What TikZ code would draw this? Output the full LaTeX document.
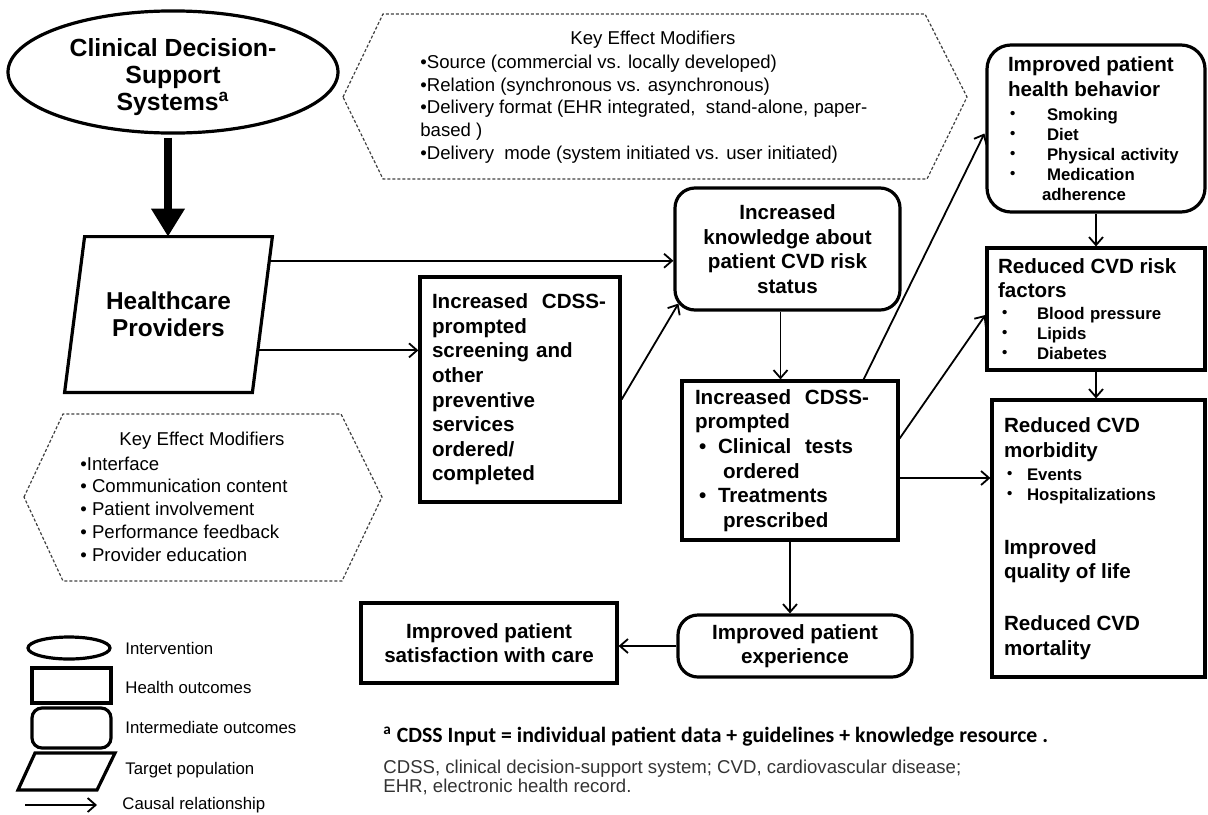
\documentclass[tikz,border=0pt]{standalone}
\usepackage{fontspec}
\setmainfont{Liberation Sans}
\newfontfamily\notefont{Carlito}
\usetikzlibrary{arrows.meta,shapes.geometric,calc}

\newcommand{\boxfont}{\fontsize{10.3}{12.3}\selectfont\bfseries}
\newcommand{\listfont}{\fontsize{8.4}{10}\selectfont\bfseries}
\newcommand{\bitem}[2]{\hspace*{#1}\makebox[#2][l]{•}}
\newcommand{\sitem}[2]{\hspace*{#1}\makebox[#2][l]{\raisebox{0.2ex}{\fontsize{7.5}{7.5}\selectfont•}}}

\tikzset{
  outbox/.style={draw, line width=1.6pt, inner sep=0pt, font=\boxfont},
  midbox/.style={outbox, rounded corners=10pt},
  causal/.style={line width=0.9pt, -{Straight Barb[length=4pt,width=7pt]}},
  bigarrow/.style={line width=4pt, -{Triangle[width=16pt,length=14pt]}},
  modline/.style={dash pattern=on 1.5pt off 1pt, line width=0.6pt, black!75},
  modtext/.style={font=\fontsize{9.3}{11.4}\selectfont, inner sep=0pt, align=left},
  legshape/.style={draw, line width=1.6pt, inner sep=0pt},
  legtext/.style={font=\fontsize{8.4}{10}\selectfont, anchor=west, inner sep=0pt},
}

\begin{document}
\begin{tikzpicture}[x=0.5pt, y=-0.5pt]
    \useasboundingbox (0,0) rectangle (1208,814);
    % --- intervention and target population ---
    \node[legshape, ellipse, minimum width=165pt, minimum height=56.5pt,
          font=\fontsize{12.4}{13.3}\selectfont\bfseries, align=center] (cdss) at (173,72)
          {\rule{0pt}{14pt}Clinical Decision-\\Support\\Systems\textsuperscript{a}};
    \node[minimum width=103.5pt, minimum height=77.5pt, inner sep=0pt,
          font=\fontsize{12.2}{13.6}\selectfont\bfseries, align=center] (hcp) at (168.5,314.5)
          {Healthcare\\Providers};
    \coordinate (hcpTR) at (hcp.north east);
    \coordinate (hcpBR) at ($(hcp.south east)+(-20,0)$);
    \draw[line width=1.6pt] ($(hcp.north west)+(20,0)$) -- (hcpTR) -- (hcpBR) -- (hcp.south west) -- cycle;
    \draw[bigarrow] ($(cdss.south)+(-5,3)$) coordinate (cdssA) -- (cdssA |- hcp.north);

    % --- key effect modifiers ---
    \draw[modline] (343,97) -- (383,14) -- (925,14) -- (967,97) -- (927,179) -- (383,179) -- cycle;
    \node[modtext] (modA) at (653,40) {Key Effect Modifiers};
    \node[modtext, anchor=west] (modAlist) at (420,109)
        {•Source (commercial vs. locally developed)\\
         •Relation (synchronous vs. asynchronous)\\
         •Delivery format (EHR integrated, \ stand-alone, paper-\\
         based )\\
         •Delivery \ mode (system initiated vs. user initiated)};
    \draw[modline] (24,497) -- (63,414) -- (341,414) -- (382,497) -- (342,581) -- (63,581) -- cycle;
    \node[modtext] (modB) at (202,441) {Key Effect Modifiers};
    \node[modtext, anchor=west] (modBlist) at (80,509)
        {•Interface\\• Communication content\\• Patient involvement\\• Performance feedback\\• Provider education};

    % --- outcomes ---
    \node[outbox, text width=88pt, align=left, minimum width=100pt, minimum height=112.5pt] (screen) at (520,389.5)
        {\mbox{Increased\ \ CDSS-}\\prompted\\screening and\\other\\preventive\\services\\ordered/\\completed};
    \node[midbox, align=center, minimum width=112.5pt, minimum height=61pt] (know) at (787.5,249)
        {Increased\\knowledge about\\patient CVD risk\\status};
    \node[outbox, text width=95pt, align=left, minimum width=108pt, minimum height=79.5pt] (tests) at (790,460.5)
        {\mbox{Increased\ \ CDSS-}\\prompted\\
         \bitem{2pt}{9.5pt}Clinical\ \ tests\\\hspace*{14pt}ordered\\
         \bitem{2pt}{9.5pt}Treatments\\\hspace*{14pt}prescribed};
    \node[outbox, align=center, minimum width=128pt, minimum height=40pt] (sat) at (489,643)
        {Improved patient\\satisfaction with care};
    \node[midbox, align=center, minimum width=117pt, minimum height=31pt] (exper) at (795,646)
        {Improved patient\\experience};
    \node[midbox, rounded corners=12pt, font=\listfont, text width=88pt, align=left,
          minimum width=109pt, minimum height=83.5pt] (behav) at (1096,128.5)
        {{\boxfont Improved patient\\health behavior\\[2pt]}
         \sitem{1pt}{18.5pt}Smoking\\
         \sitem{1pt}{18.5pt}Diet\\
         \sitem{1pt}{18.5pt}Physical activity\\
         \sitem{1pt}{18.5pt}Medication\\
         \hspace*{17pt}adherence};
    \node[outbox, font=\listfont, text width=98pt, align=left,
          minimum width=109pt, minimum height=61pt] (risk) at (1096,309)
        {{\boxfont Reduced CVD risk\\factors\\[1pt]}
         \sitem{2pt}{17.5pt}Blood pressure\\
         \sitem{2pt}{17.5pt}Lipids\\
         \sitem{2pt}{17.5pt}Diabetes};
    \node[outbox, font=\listfont, text width=94.5pt, align=left,
          minimum width=106.5pt, minimum height=138.5pt] (morb) at (1098.5,538.5)
        {{\boxfont Reduced CVD\\morbidity\\[1.5pt]}
         \sitem{1.5pt}{10pt}Events\\
         \sitem{1.5pt}{10pt}Hospitalizations\\[14.7pt]
         {\boxfont Improved\\quality of life\\[13.7pt]
         Reduced CVD\\mortality\par}};

    % --- causal links ---
    \draw[causal] ($(hcpTR)!.155!(hcpBR)$) coordinate (hcpA) -- (hcpA -| know.west);
    \draw[causal] ($(hcpTR)!.73!(hcpBR)$) coordinate (hcpB) -- (hcpB -| screen.west);
    \draw[causal] ($(screen.east)+(0,10)$) -- ($(know.south west)+(5,-8)$);
    \draw[causal] ($(know.south)+(-7,0)$) coordinate (knowB) -- (knowB |- tests.north);
    \draw[causal] ($(tests.north east)+(-36,0)$) -- ($(behav.west)+(-1,5)$);
    \draw[causal] ($(tests.east)+(0,-22)$) -- ($(risk.west)+(0,6)$);
    \draw[causal] ($(tests.east)+(0,17.5)$) coordinate (testsC) -- (testsC -| morb.west);
    \draw[causal] (tests.south) -- (tests.south |- exper.north);
    \draw[causal] (exper.west) -- (exper.west -| sat.east);
    \draw[causal] (behav.south) -- (behav.south |- risk.north);
    \draw[causal] (risk.south) -- (risk.south |- morb.north);

    % --- legend ---
    \node[legshape, ellipse, minimum width=41pt, minimum height=11pt] (legA) at (69,648) {};
    \node[legshape, minimum width=39.5pt, minimum height=17.5pt] (legB) at (71.5,685.5) {};
    \node[legshape, rounded corners=5pt, minimum width=39.5pt, minimum height=20pt] (legC) at (71.5,728) {};
    \draw[line width=1.6pt] (18,790) -- (35,753) -- (115,753) -- (97,790) -- cycle;
    \coordinate (legE1) at (25,805);
    \coordinate (legE2) at (97,805);
    \draw[causal] (legE1) -- (legE2);
    \node[legtext] (legAt) at (125,648) {Intervention};
    \node[legtext] (legBt) at (125,687) {Health outcomes};
    \node[legtext] (legCt) at (125,727) {Intermediate outcomes};
    \node[legtext] (legDt) at (125,770) {Target population};
    \node[legtext] (legEt) at (122,805) {Causal relationship};

    % --- notes ---
    \node[anchor=west, inner sep=0pt, font=\notefont\fontsize{10.9}{12}\selectfont\bfseries] (noteA) at (383,737)
        {\textsuperscript{a} CDSS Input = individual patient data + guidelines + knowledge resource .};
    \node[anchor=west, inner sep=0pt, align=left, font=\fontsize{9.3}{9.5}\selectfont, text=black!80] (noteB) at (383,777.5)
        {CDSS, clinical decision-support system; CVD, cardiovascular disease;\\EHR, electronic health record.};
\end{tikzpicture}
\end{document}
